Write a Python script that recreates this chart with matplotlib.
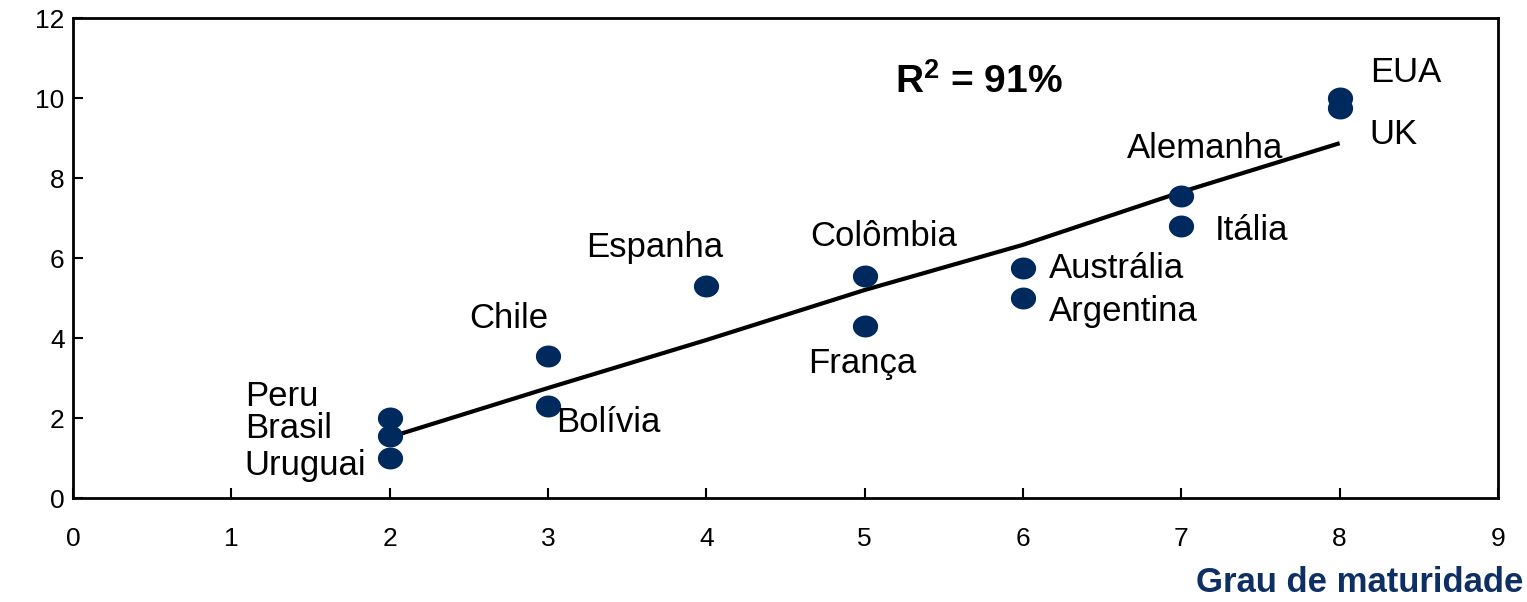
import numpy as np
import matplotlib
matplotlib.use("Agg")
import matplotlib.pyplot as plt
from matplotlib.path import Path

plt.rcParams['font.family'] = ['Liberation Sans', 'DejaVu Sans']
plt.rcParams['mathtext.fontset'] = 'custom'
plt.rcParams['mathtext.rm'] = 'Liberation Sans'
plt.rcParams['mathtext.bf'] = 'Liberation Sans:bold'

# Data
countries = ["EUA", "UK", "Alemanha", "Itália", "Colômbia", "Espanha", "Austrália",
             "Argentina", "França", "Chile", "Bolívia", "Peru", "Brasil", "Uruguai"]
maturity = [8, 8, 7, 7, 5, 4, 6, 6, 5, 3, 3, 2, 2, 2]
values = [10.0, 9.75, 7.55, 6.8, 5.55, 5.3, 5.75, 5.0, 4.3, 3.55, 2.3, 2.0, 1.55, 1.0]
trend_x = [2, 3, 4, 5, 6, 7, 8]
trend_y = [1.52, 2.75, 3.95, 5.2, 6.33, 7.65, 8.87]
r2_text = r"$\mathbf{R^2}$ = 91%"
x_label = "Grau de maturidade"

# Label placement (pixel offsets, alignment)
label_offsets = [(30, 26, 'left'), (30, -26, 'left'), (24, 48, 'center'), (33, -5, 'left'),
                 (19, 39, 'center'), (-52, 38, 'center'), (26, 0, 'left'), (26, -14, 'left'),
                 (-2, -38, 'center'), (-39, 38, 'center'), (8, -16, 'left'),
                 (-145, 21, 'left'), (-145, 7, 'left'), (-145, -8, 'left')]

navy = '#002A5E'

fig = plt.figure(figsize=(15.27, 6.02), dpi=100)
ax = fig.add_axes([73/1527, 1-498/602, (1498-73)/1527, (498-18)/602])

t = np.linspace(0, 2*np.pi, 60)
ell = Path(np.column_stack([1.15*np.cos(t), np.sin(t)]))

ax.plot(trend_x, trend_y, color='black', lw=3, zorder=2, solid_capstyle='butt')
ax.scatter(maturity, values, marker=ell, s=330, color=navy, zorder=3, linewidths=0)

for name, x, y, (dx, dy, ha) in zip(countries, maturity, values, label_offsets):
    ax.annotate(name, (x, y), xytext=(dx, dy), textcoords='offset pixels',
                ha=ha, va='center', fontsize=25, color='black')

ax.text(5.19, 10.4, r2_text, fontsize=28, fontweight='bold', ha='left', va='center')

ax.set_xlim(0, 9)
ax.set_ylim(0, 12)
ax.set_xticks(range(0, 10))
ax.set_yticks(range(0, 13, 2))
ax.tick_params(axis='both', labelsize=19, direction='in', length=7, width=1.5,
               top=False, right=False)
ax.tick_params(axis='y', pad=6)
ax.tick_params(axis='x', pad=21)
for s in ['left', 'bottom', 'top', 'right']:
    ax.spines[s].set_linewidth(2)

fig.text(1523/1527, 1-583/602, x_label, ha='right', va='center', fontsize=25,
         fontweight='bold', color='#0E2F63')

fig.savefig("out.png", dpi=100)
